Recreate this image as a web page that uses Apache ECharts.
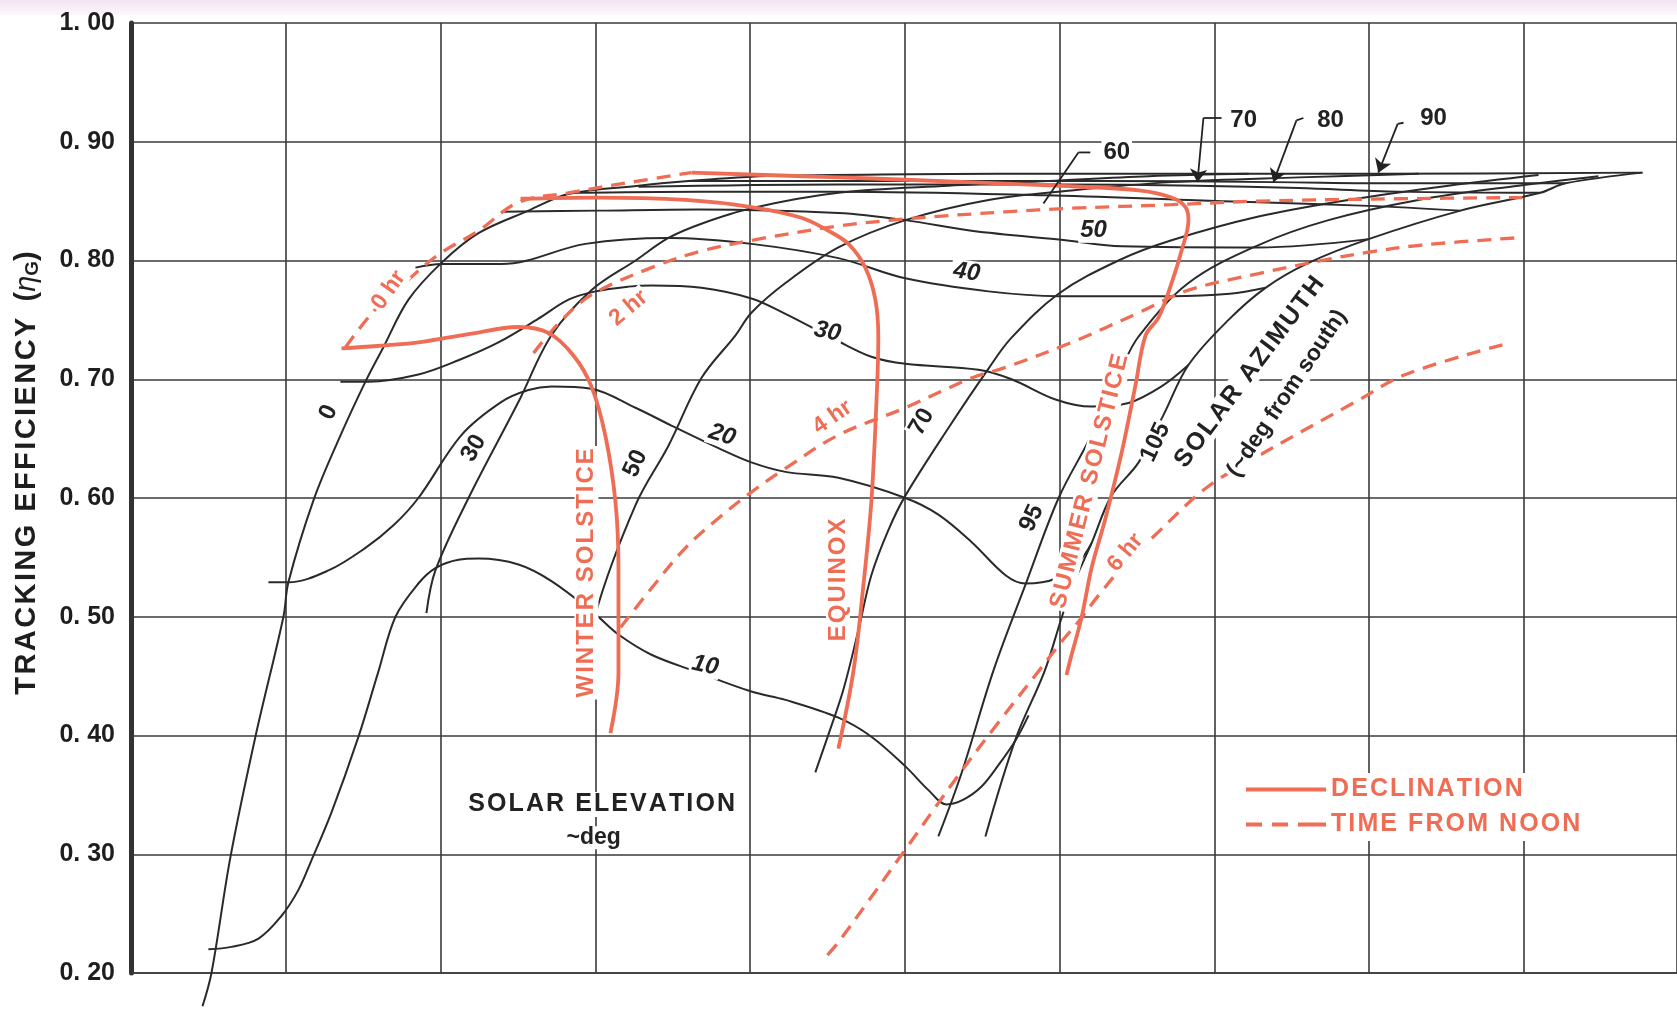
<!DOCTYPE html>
<html>
<head>
<meta charset="utf-8">
<script src="https://cdn.jsdelivr.net/npm/echarts@6/dist/echarts.min.js"></script>
<style>
html,body{margin:0;padding:0;background:#fff;}
#chart{width:1677px;height:1009px;}
</style>
</head>
<body>
<div id="chart"></div>
<script>
// ---- tracking efficiency axis ----
const yTicks = [0.2, 0.3, 0.4, 0.5, 0.6, 0.7, 0.8, 0.9, 1.0];

// ---- declination curves (solid) ----
const winterSolstice = [[1.360,0.726],[1.589,0.728],[1.857,0.731],[2.181,0.738],[2.504,0.744],[2.698,0.739],[2.859,0.720],[2.975,0.694],[3.066,0.652],[3.131,0.596],[3.150,0.541],[3.150,0.453],[3.098,0.402]];
const equinox = [[2.517,0.852],[3.001,0.853],[3.583,0.851],[4.009,0.845],[4.332,0.836],[4.507,0.825],[4.636,0.814],[4.745,0.794],[4.810,0.767],[4.829,0.735],[4.817,0.681],[4.784,0.597],[4.733,0.527],[4.668,0.454],[4.571,0.389]];
const summerSolstice = [[3.621,0.874],[4.571,0.870],[5.004,0.868],[5.974,0.863],[6.511,0.859],[6.724,0.853],[6.814,0.845],[6.833,0.834],[6.788,0.808],[6.724,0.781],[6.640,0.752],[6.556,0.737],[6.491,0.695],[6.401,0.638],[6.297,0.583],[6.207,0.541],[6.142,0.499],[6.078,0.468],[6.045,0.451]];

// ---- time from noon curves (dashed) ----
const hour0 = [[1.386,0.727],[1.573,0.758],[1.767,0.781],[1.987,0.805],[2.245,0.825],[2.504,0.849],[2.827,0.857],[3.234,0.866],[3.621,0.874]];
const hour2 = [[2.601,0.722],[2.762,0.747],[2.975,0.771],[3.363,0.794],[3.686,0.808],[4.054,0.818],[4.571,0.829],[5.004,0.835],[5.651,0.841],[6.078,0.844],[6.724,0.847],[7.286,0.850],[8.192,0.852],[8.991,0.853]];
const hour4 = [[3.163,0.491],[3.363,0.524],[3.583,0.558],[3.796,0.583],[4.009,0.605],[4.229,0.625],[4.571,0.653],[5.004,0.676],[5.431,0.701],[5.651,0.710],[6.078,0.731],[6.511,0.756],[6.833,0.775],[7.286,0.789],[7.693,0.800],[7.997,0.807],[8.339,0.813],[8.946,0.819]];
const hour6 = [[4.500,0.215],[4.571,0.226],[4.784,0.264],[5.004,0.304],[5.327,0.363],[5.605,0.411],[5.864,0.454],[6.013,0.479],[6.123,0.496],[6.252,0.518],[6.401,0.541],[6.620,0.569],[6.943,0.608],[7.266,0.634],[7.913,0.681],[8.236,0.704],[8.862,0.729]];

// ---- solar azimuth curves ----
const azimuth0 = [[0.462,0.172],[0.520,0.200],[0.643,0.298],[0.804,0.399],[0.985,0.500],[1.017,0.529],[1.179,0.598],[1.341,0.649],[1.515,0.698],[1.631,0.727],[1.793,0.767],[2.006,0.798],[2.245,0.823],[2.568,0.842],[2.827,0.856],[3.279,0.863],[3.602,0.867],[4.054,0.871]];
const azimuth30 = [[1.909,0.503],[1.967,0.539],[2.181,0.600],[2.504,0.681],[2.717,0.737],[2.975,0.775],[3.260,0.800],[3.473,0.819],[3.686,0.831],[4.009,0.844],[4.571,0.857],[5.282,0.863],[5.929,0.867],[6.576,0.871],[7.222,0.873]];
const azimuth50 = [[2.943,0.447],[3.001,0.502],[3.260,0.594],[3.473,0.644],[3.686,0.701],[3.906,0.737],[4.009,0.756],[4.229,0.781],[4.571,0.811],[5.004,0.834],[5.541,0.851],[6.078,0.859],[6.724,0.866],[7.546,0.870],[8.321,0.873]];
const azimuth70 = [[4.422,0.369],[4.507,0.401],[4.604,0.439],[4.701,0.489],[4.784,0.535],[4.894,0.573],[5.004,0.602],[5.282,0.659],[5.541,0.709],[5.690,0.735],[5.994,0.772],[6.381,0.800],[6.724,0.817],[7.286,0.837],[7.867,0.851],[8.513,0.863],[9.095,0.872]];
const azimuth95 = [[5.217,0.315],[5.366,0.368],[5.574,0.455],[5.780,0.527],[5.994,0.600],[6.207,0.653],[6.401,0.709],[6.511,0.736],[6.833,0.781],[7.286,0.813],[7.738,0.834],[8.319,0.851],[8.965,0.863],[9.482,0.871]];
const azimuth105 = [[5.521,0.315],[5.716,0.397],[5.903,0.454],[6.013,0.499],[6.078,0.524],[6.207,0.562],[6.336,0.602],[6.511,0.630],[6.672,0.670],[6.833,0.712],[7.092,0.750],[7.331,0.777],[7.609,0.798],[7.997,0.818],[8.591,0.842],[9.107,0.857],[9.269,0.865],[9.767,0.874]];

// ---- solar elevation curves ----
const elevation10 = [[0.500,0.220],[0.649,0.222],[0.824,0.229],[0.972,0.248],[1.082,0.270],[1.160,0.293],[1.295,0.335],[1.470,0.399],[1.599,0.454],[1.709,0.500],[1.857,0.528],[1.967,0.541],[2.116,0.548],[2.245,0.549],[2.504,0.544],[2.717,0.530],[3.001,0.502],[3.150,0.485],[3.363,0.468],[3.647,0.454],[4.009,0.437],[4.229,0.430],[4.571,0.415],[4.784,0.399],[5.004,0.374],[5.153,0.354],[5.269,0.342],[5.379,0.346],[5.496,0.357],[5.605,0.375],[5.716,0.396],[5.800,0.417]];
const elevation20 = [[0.888,0.529],[1.017,0.529],[1.276,0.539],[1.515,0.558],[1.696,0.577],[1.857,0.600],[2.135,0.653],[2.394,0.681],[2.568,0.691],[2.717,0.694],[2.975,0.692],[3.260,0.676],[3.492,0.661],[3.796,0.642],[4.009,0.630],[4.229,0.622],[4.571,0.617],[5.004,0.600],[5.217,0.586],[5.431,0.563],[5.651,0.535],[5.780,0.528],[5.974,0.532],[6.123,0.546],[6.207,0.562]];
const elevation30 = [[1.353,0.698],[1.534,0.698],[1.857,0.704],[2.116,0.716],[2.374,0.731],[2.633,0.751],[2.827,0.767],[3.001,0.774],[3.214,0.778],[3.363,0.779],[3.686,0.777],[4.009,0.768],[4.229,0.755],[4.571,0.732],[4.784,0.719],[5.004,0.713],[5.476,0.708],[5.690,0.700],[5.974,0.683],[6.207,0.677],[6.446,0.680],[6.659,0.694],[6.833,0.712]];
const elevation40 = [[1.838,0.794],[2.006,0.797],[2.394,0.797],[2.937,0.814],[3.473,0.819],[4.009,0.814],[4.571,0.802],[5.004,0.785],[5.541,0.774],[5.994,0.770],[6.724,0.770],[7.100,0.772],[7.331,0.777]];
const elevation50 = [[2.394,0.841],[3.021,0.842],[3.667,0.843],[4.571,0.840],[5.004,0.834],[5.431,0.825],[6.039,0.817],[6.401,0.812],[7.286,0.811],[7.997,0.818]];
const elevation60 = [[2.827,0.857],[3.667,0.858],[4.571,0.858],[5.909,0.855],[6.833,0.851],[7.286,0.849],[7.997,0.846],[8.591,0.842]];
const elevation70 = [[3.279,0.862],[4.571,0.864],[5.994,0.864],[6.885,0.863],[7.544,0.861],[8.190,0.858],[9.107,0.857]];
const elevation80 = [[3.602,0.867],[4.571,0.867],[6.252,0.867],[7.382,0.866],[8.190,0.865],[9.269,0.865]];
const elevation90 = [[4.054,0.871],[5.605,0.873],[8.061,0.873],[9.767,0.874]];

// ---- curve labels: [text, x, y, rotation] ----
const azimuthLabels = [['0',1.276,0.672,65],['30',2.215,0.642,60],['50',3.260,0.629,65],['70',5.110,0.664,60],['95',5.820,0.583,65],['105',6.620,0.647,65]];
const elevationLabels = [['10',3.710,0.459,-12],['20',3.820,0.653,-18],['30',4.500,0.740,-12],['40',5.400,0.790,-8],['50',6.220,0.825,0]];
const upperElevationLabels = [['60',6.370,0.891,0],['70',7.190,0.918,0],['80',7.751,0.918,0],['90',8.417,0.920,0]];
const hourLabels = [['0 hr',1.665,0.775,55],['2 hr',3.215,0.760,40],['4 hr',4.533,0.668,35],['6 hr',6.426,0.554,50]];
const seasonLabels = [['WINTER SOLSTICE',2.943,0.537,90],['EQUINOX',4.568,0.531,90],['SUMMER SOLSTICE',6.194,0.614,76]];
const axisNotes = [['SOLAR ELEVATION',3.041,0.342,0],['SOLAR AZIMUTH',7.228,0.706,53]];
const axisNoteUnits = [['~deg',2.990,0.314,0],['(~deg from south)',7.470,0.688,56]];

// ---- leader lines from the upper elevation labels ----
const leader60 = [[6.199,0.891],[6.122,0.891],[5.896,0.848]];
const leader70 = [[7.047,0.920],[6.930,0.920],[6.891,0.866]];
const leader80 = [[7.576,0.920],[7.531,0.918],[7.382,0.866]];
const leader90 = [[8.223,0.916],[8.185,0.915],[8.060,0.874]];

const RED = '#ef6d55';
const INK = '#222222';
const FONT = 'Liberation Sans, Arial, sans-serif';
const spaced = s => s.split('').join('\u200A');

function blackCurve(name, data) {
  return {type:'line', name:name, data:data, smooth:0.35, showSymbol:false, symbol:'none', silent:true,
          lineStyle:{color:'#2a2a2a', width:2}, itemStyle:{color:'#2a2a2a'}, z:3};
}
function redCurve(name, data, dashed) {
  return {type:'line', name:name, data:data, smooth:0.35, showSymbol:false, symbol:'none', silent:true,
          lineStyle:{color:RED, width:dashed ? 3.3 : 3.8, type: dashed ? [14, 9] : 'solid'},
          itemStyle:{color:RED}, z:4};
}
function labelSeries(items, opts) {
  return {type:'scatter', silent:true, symbol:'circle', symbolSize:0,
    itemStyle:{color:'rgba(0,0,0,0)', opacity:1}, z:opts.z || 6,
    data: items.map(it => ({value:[it[1], it[2]],
      label:{show:true, position:'inside', formatter: opts.space ? spaced(it[0]) : it[0], rotate: it[3],
             color: opts.color, opacity:1, textBorderWidth:0, fontSize: opts.size, fontWeight: opts.weight || 'normal',
             fontStyle: opts.italic ? 'italic' : 'normal', fontFamily: FONT,
             backgroundColor: opts.bg || 'transparent', padding: opts.bg ? [0, 2] : 0}}))};
}
// polyline part of each leader, then its last segment (with arrowhead where drawn)
function leaderSeries(paths, arrow) {
  const bodies = paths.map(p => ({coords: p.slice(0, p.length - 1)}));
  const tips = paths.map(p => ({coords: p.slice(p.length - 2)}));
  return [
    {type:'lines', coordinateSystem:'cartesian2d', polyline:true, silent:true, z:5,
     lineStyle:{color:INK, width:1.8, opacity:1}, data:bodies},
    {type:'lines', coordinateSystem:'cartesian2d', silent:true, z:5,
     symbol: arrow ? ['none','arrow'] : 'none', symbolSize: 13,
     lineStyle:{color:INK, width:1.8, opacity:1}, data:tips}
  ];
}

const series = [
  blackCurve('az0', azimuth0),
  blackCurve('az30', azimuth30),
  blackCurve('az50', azimuth50),
  blackCurve('az70', azimuth70),
  blackCurve('az95', azimuth95),
  blackCurve('az105', azimuth105),
  blackCurve('el10', elevation10),
  blackCurve('el20', elevation20),
  blackCurve('el30', elevation30),
  blackCurve('el40', elevation40),
  blackCurve('el50', elevation50),
  blackCurve('el60', elevation60),
  blackCurve('el70', elevation70),
  blackCurve('el80', elevation80),
  blackCurve('el90', elevation90),
  redCurve('DECLINATION', winterSolstice, false),
  redCurve('DECLINATION', equinox, false),
  redCurve('DECLINATION', summerSolstice, false),
  redCurve('TIME FROM NOON', hour0, true),
  redCurve('TIME FROM NOON', hour2, true),
  redCurve('TIME FROM NOON', hour4, true),
  redCurve('TIME FROM NOON', hour6, true),
  ...leaderSeries([leader60], false),
  ...leaderSeries([leader70, leader80, leader90], true),
  labelSeries(azimuthLabels, {size:24, color:INK, bg:'#fff', weight:'bold'}),
  labelSeries(elevationLabels, {size:24, color:INK, bg:'#fff', weight:'bold', italic:true}),
  labelSeries(upperElevationLabels, {size:24, color:INK, bg:'#fff', weight:'bold'}),
  labelSeries(hourLabels, {size:23, color:RED, bg:'#fff', weight:'bold'}),
  labelSeries(seasonLabels, {size:24, color:RED, bg:'#fff', weight:'bold', space:true}),
  labelSeries(axisNotes, {size:25, color:INK, bg:'#fff', weight:'bold', space:true, z:7}),
  labelSeries(axisNoteUnits, {size:23, color:INK, bg:'#fff', weight:'bold', z:7})
];
// the first azimuth curve runs past the bottom of the frame
series[0].clip = false;

const chart = echarts.init(document.getElementById('chart'), null, {renderer:'canvas'});
chart.setOption({
  animation:false,
  backgroundColor:'#ffffff',
  grid:{left:131, right:0, top:23, bottom:36},
  xAxis:{type:'value', min:0, max:9.99, interval:1,
    axisLine:{show:true, lineStyle:{color:'#3a3a3a', width:1.6}},
    axisTick:{show:false}, axisLabel:{show:false},
    splitLine:{show:true, lineStyle:{color:'#3a3a3a', width:1.6}}},
  yAxis:{type:'value', min:yTicks[0], max:yTicks[yTicks.length-1], interval:0.1,
    axisLine:{show:true, lineStyle:{color:'#333', width:5}},
    axisTick:{show:false},
    axisLabel:{margin:16, color:'#1e1e1e', fontSize:25, fontWeight:'bold', fontFamily:FONT,
      formatter: v => v.toFixed(2).replace('.', '. ')},
    splitLine:{show:true, lineStyle:{color:'#3a3a3a', width:1.6}}},
  legend:{data:[
      {name:'DECLINATION', icon:'path://M0,0H80V4H0Z'},
      {name:'TIME FROM NOON', icon:'path://M0,0H16V4H0Z M26,0H42V4H26Z M52,0H80V4H52Z'}],
    orient:'vertical', left:1240, top:773, itemWidth:80, itemHeight:4, itemGap:10, padding:[4,6],
    backgroundColor:'#fff', selectedMode:false, formatter: name => spaced(name),
    itemStyle:{color:RED, borderWidth:0},
    textStyle:{color:RED, fontSize:25, fontWeight:'bold', fontFamily:FONT}},
  graphic:[
    {type:'rect', left:0, top:0, z:-1, shape:{width:1677, height:15},
     style:{fill:{type:'linear', x:0, y:0, x2:0, y2:1, colorStops:[{offset:0,color:'#f3e4f3'},{offset:1,color:'#fcf7fc'}]}}},
    {type:'text', x:27, y:473, rotation:Math.PI/2, z:10,
     style:{text:'{a|' + spaced('TRACKING EFFICIENCY') + '  (}{e|η}{g|G}{a|)}', align:'center', verticalAlign:'middle',
       rich:{a:{fontSize:29, fontWeight:'bold', fontFamily:FONT, fill:'#1e1e1e'},
             e:{fontSize:29, fontStyle:'italic', fontFamily:FONT, fill:'#1e1e1e'},
             g:{fontSize:19, fontWeight:'bold', fontFamily:FONT, fill:'#1e1e1e', padding:[11,0,0,0]}}}}
  ],
  series: series
});
</script>
</body>
</html>
